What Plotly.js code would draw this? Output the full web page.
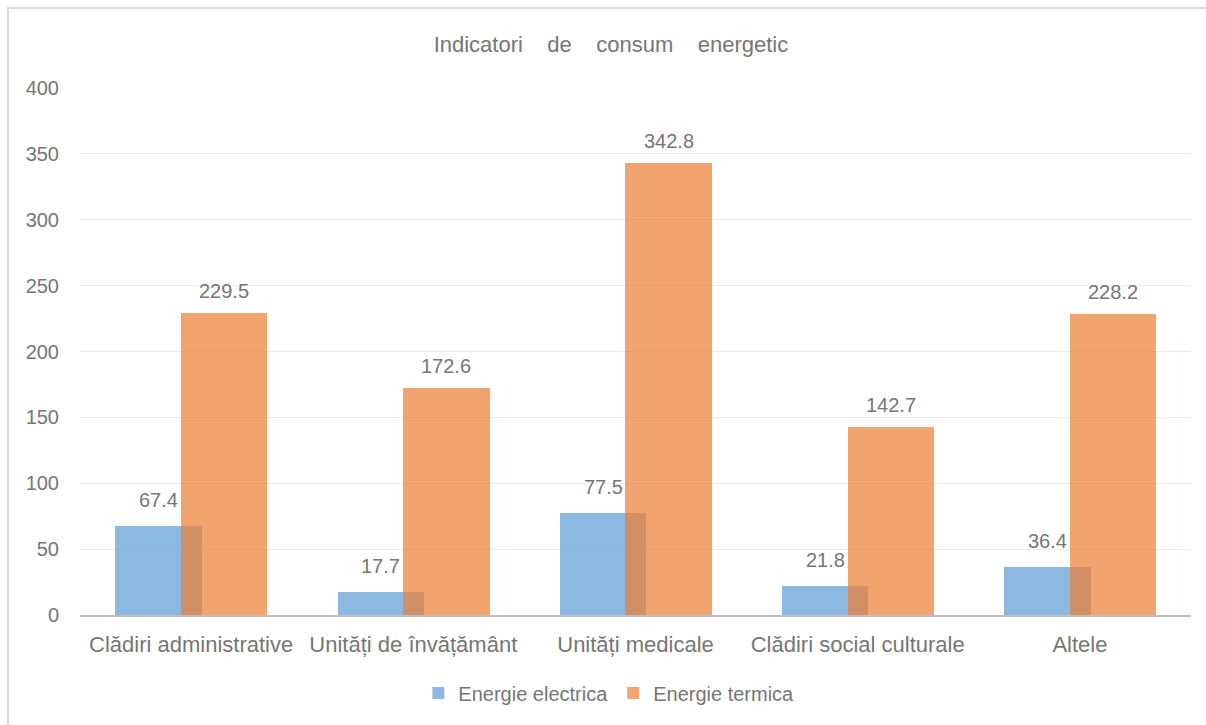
<!DOCTYPE html>
<html>
<head>
<meta charset="utf-8">
<script src="https://cdn.plot.ly/plotly-3.0.1.min.js"></script>
<style>
  html, body { margin: 0; padding: 0; background: #ffffff; }
  #frame { position: absolute; left: 7px; top: 7px; width: 1210px; height: 730px; border: 2px solid #D9D9D9; box-sizing: border-box; }
  #chart { position: absolute; left: 0; top: 0; width: 1206px; height: 725px; }
</style>
</head>
<body>
<div id="frame"></div>
<div id="chart"></div>
<script>
const categories = ["Clădiri administrative", "Unități de învățământ", "Unități medicale", "Clădiri social culturale", "Altele"];
const energieElectrica = [67.4, 17.7, 77.5, 21.8, 36.4];
const energieTermica = [229.5, 172.6, 342.8, 142.7, 228.2];
const seriesNames = ["Energie electrica", "Energie termica"];
const yTicks = [0, 50, 100, 150, 200, 250, 300, 350, 400];

const textColor = "#767676";
const fontFamily = "'Liberation Sans', Arial, Helvetica, sans-serif";

const barWidth = 0.389;
const traces = [
  {
    type: "bar", name: seriesNames[0], x: categories, y: energieElectrica,
    width: barWidth, offset: -0.341,
    marker: { color: "rgba(91,155,213,0.7)", line: { width: 0 } },
    hoverinfo: "x+y"
  },
  {
    type: "bar", name: seriesNames[1], x: categories, y: energieTermica,
    width: barWidth, offset: -0.0455,
    marker: { color: "rgba(237,125,49,0.7)", line: { width: 0 } },
    hoverinfo: "x+y"
  }
];

const annotations = [];
categories.forEach((c, i) => {
  annotations.push({ x: c, y: energieElectrica[i], xref: "x", yref: "y", text: energieElectrica[i].toFixed(1),
    showarrow: false, xshift: -32.5, yanchor: "bottom", yshift: 13, font: { size: 20, color: textColor, family: fontFamily } });
  annotations.push({ x: c, y: energieTermica[i], xref: "x", yref: "y", text: energieTermica[i].toFixed(1),
    showarrow: false, xshift: 33, yanchor: "bottom", yshift: 9, font: { size: 20, color: textColor, family: fontFamily } });
});

const sp = "\u00A0\u00A0\u00A0 ";
const layout = {
  width: 1206, height: 725,
  margin: { l: 80, r: 15, t: 88, b: 110 },
  paper_bgcolor: "rgba(0,0,0,0)", plot_bgcolor: "rgba(0,0,0,0)",
  font: { family: fontFamily, size: 20, color: textColor },
  title: { text: "Indicatori" + sp + "de" + sp + "consum" + sp + "energetic", x: 0.5066, xanchor: "center", y: 0.939, yanchor: "middle",
    font: { size: 22, color: textColor, family: fontFamily } },
  barmode: "overlay",
  bargap: 0,
  xaxis: {
    type: "category", showgrid: false, showline: true, linecolor: "#BFBFBF", linewidth: 2,
    ticks: "", tickfont: { size: 22, color: textColor }, zeroline: false, fixedrange: true,
    ticklabelstandoff: 9
  },
  yaxis: {
    range: [0, 400], tickvals: yTicks, ticktext: yTicks.map(String), showgrid: true, gridcolor: "#EBEBEB", gridwidth: 1,
    zeroline: false, showline: false, ticks: "", tickfont: { size: 20, color: textColor }, fixedrange: true,
    ticklabelstandoff: 20
  },
  showlegend: true,
  legend: { orientation: "h", x: 0.476, xanchor: "center", y: -0.148, yanchor: "middle",
    font: { size: 20, color: textColor }, itemwidth: 30, tracegroupgap: 0 },
  annotations: annotations
};

Plotly.newPlot("chart", traces, layout, { staticPlot: false, displayModeBar: false });
</script>
</body>
</html>
